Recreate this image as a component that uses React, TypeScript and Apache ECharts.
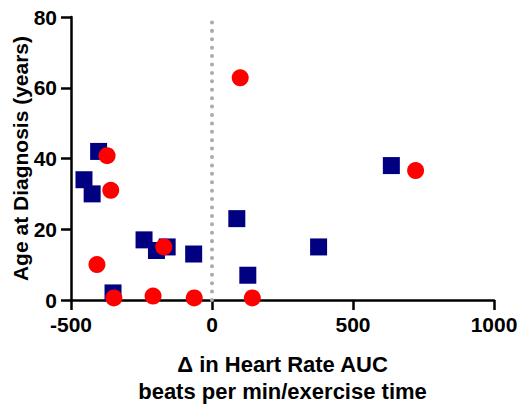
import React, { useEffect, useRef } from "react";
import * as echarts from "echarts";

const squareX = [-454, -402, -425, -351, -241, -197, -159, -65, 88, 127, 378, 636];
const squareY = [34, 42, 30, 2, 17, 14, 15, 13, 23, 7, 15, 38];
const circleX = [-372, -359, -408, -348, -209, -171, -63, 100, 143, 722];
const circleY = [40.8, 31, 10, 0.6, 1.1, 15, 0.6, 62.8, 0.6, 36.6];
const xTicks = { min: -500, max: 1000, interval: 500 };
const yTicks = { min: 0, max: 80, interval: 20 };
const xTitle = "Δ in Heart Rate AUC\nbeats per min/exercise time";
const yTitle = "Age at Diagnosis (years)";

const FONT = "'Liberation Sans', Arial, Helvetica, sans-serif";

export default function App() {
  const ref = useRef<HTMLDivElement>(null);
  useEffect(() => {
    if (!ref.current) return;
    const chart = echarts.init(ref.current, null, { renderer: "svg" });
    const axisCommon = {
      axisLine: { show: true, onZero: false, lineStyle: { color: "#000", width: 2.5 } },
      axisTick: { show: true, length: 10, lineStyle: { color: "#000", width: 2.5 } },
      axisLabel: {
        color: "#000",
        fontSize: 21,
        fontWeight: "bold",
        fontFamily: FONT,
        margin: 14,
        formatter: (v: number) => String(v),
      },
      splitLine: { show: false },
    };
    chart.setOption({
      animation: false,
      backgroundColor: "#fff",
      grid: { left: 71, right: 27, top: 17, bottom: 105, containLabel: false, outerBoundsMode: "none" },
      xAxis: {
        type: "value",
        ...xTicks,
        ...axisCommon,
        name: xTitle,
        nameLocation: "middle",
        nameGap: 51,
        nameMoveOverlap: false,
        nameTextStyle: { color: "#000", fontSize: 22, fontWeight: "bold", fontFamily: FONT, lineHeight: 27 },
      },
      yAxis: {
        type: "value",
        ...yTicks,
        ...axisCommon,
        name: yTitle,
        nameLocation: "middle",
        nameGap: 40,
        nameMoveOverlap: false,
        nameTextStyle: { color: "#000", fontSize: 21, fontWeight: "bold", fontFamily: FONT },
      },
      series: [
        {
          type: "scatter",
          symbol: "rect",
          symbolSize: 17,
          itemStyle: { color: "#000080", opacity: 1 },
          data: squareX.map((x, i) => [x, squareY[i]]),
          markLine: {
            silent: true,
            symbol: "none",
            label: { show: false },
            lineStyle: { color: "#aaaaaa", width: 4, type: [0.01, 8.4], cap: "round" },
            data: [[{ coord: [0, yTicks.min] }, { coord: [0, yTicks.max] }]],
            z: 1,
          },
          z: 2,
        },
        {
          type: "scatter",
          symbol: "circle",
          symbolSize: 17,
          itemStyle: { color: "#ff0000", opacity: 1 },
          data: circleX.map((x, i) => [x, circleY[i]]),
          z: 3,
        },
      ],
    });
    return () => chart.dispose();
  }, []);
  return (
    <div style={{ position: "absolute", left: 0, top: 0, width: 521, height: 405, background: "#fff" }}>
      <div ref={ref} style={{ width: 521, height: 405 }} />
    </div>
  );
}
